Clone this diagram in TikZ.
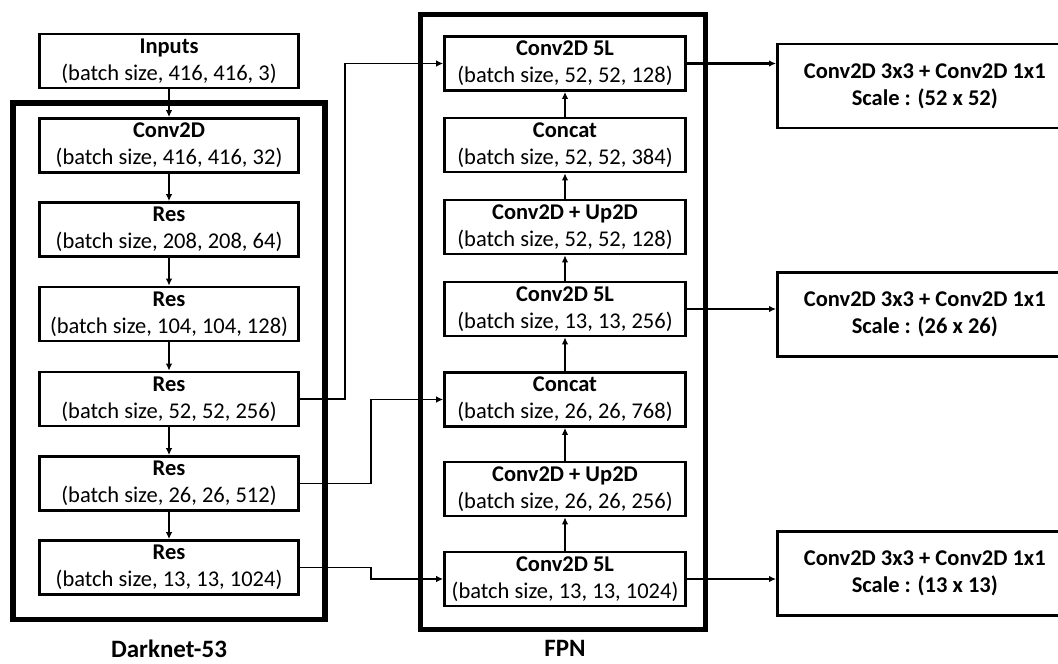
\documentclass[tikz,border=0pt]{standalone}
\usepackage{fontspec}
\setmainfont{Carlito}
\usetikzlibrary{arrows.meta}
\begin{document}
\begin{tikzpicture}[x=1pt,y=-1pt,
  every node/.style={font=\fontsize{22.5}{27}\selectfont},
  dbox/.style={draw, line width=2.6pt, minimum width=259pt, minimum height=54pt, align=center, inner sep=0pt},
  fbox/.style={draw, line width=2.6pt, minimum width=241pt, minimum height=54pt, align=center, inner sep=0pt},
  obox/.style={draw, line width=2.6pt, minimum width=295pt, minimum height=84pt, align=center, inner sep=0pt, anchor=west},
  frame/.style={draw, line width=5.5pt},
  flow/.style={line width=2.1pt, -{Latex[length=7pt,width=6.5pt]}},
  skip/.style={line width=1.5pt, -{Latex[length=7pt,width=6.5pt]}},
  lbl/.style={font=\fontsize{25}{30}\selectfont\bfseries, inner sep=0pt}]
\useasboundingbox (0,0) rectangle (1058,664);
\fill[white] (0,0) rectangle (1058,664);
% frames
\draw[frame] (13,103) rectangle (325,619.5);
\draw[frame] (420.5,14.5) rectangle (705.5,629.5);
% Darknet column
\node[dbox] (in) at (169,61) {\textbf{Inputs}\\(batch size, 416, 416, 3)};
\node[dbox] (c1) at (169,145.5) {\textbf{Conv2D}\\(batch size, 416, 416, 32)};
\node[dbox] (r1) at (169,229.5) {\textbf{Res}\\(batch size, 208, 208, 64)};
\node[dbox] (r2) at (169,314) {\textbf{Res}\\(batch size, 104, 104, 128)};
\node[dbox] (r3) at (169,399) {\textbf{Res}\\(batch size, 52, 52, 256)};
\node[dbox] (r4) at (169,483.5) {\textbf{Res}\\(batch size, 26, 26, 512)};
\node[dbox] (r5) at (169,567.5) {\textbf{Res}\\(batch size, 13, 13, 1024)};
% FPN column
\node[fbox] (f1) at (565,63.5) {\textbf{Conv2D 5L}\\(batch size, 52, 52, 128)};
\node[fbox] (f2) at (565,145) {\textbf{Concat}\\(batch size, 52, 52, 384)};
\node[fbox] (f3) at (565,227) {\textbf{Conv2D + Up2D}\\(batch size, 52, 52, 128)};
\node[fbox] (f4) at (565,309) {\textbf{Conv2D 5L}\\(batch size, 13, 13, 256)};
\node[fbox] (f5) at (565,399.5) {\textbf{Concat}\\(batch size, 26, 26, 768)};
\node[fbox] (f6) at (565,489) {\textbf{Conv2D + Up2D}\\(batch size, 26, 26, 256)};
\node[fbox] (f7) at (565,579) {\textbf{Conv2D 5L}\\(batch size, 13, 13, 1024)};
% outputs
\node[obox] (o1) at (776,86) {\textbf{Conv2D 3x3 + Conv2D 1x1}\\\textbf{Scale : (52 x 52)}};
\node[obox] (o2) at (776,314.5) {\textbf{Conv2D 3x3 + Conv2D 1x1}\\\textbf{Scale : (26 x 26)}};
\node[obox] (o3) at (776,573.5) {\textbf{Conv2D 3x3 + Conv2D 1x1}\\\textbf{Scale : (13 x 13)}};
% labels
\node[lbl] (ld) at (169,649) {Darknet-53};
\node[lbl] (lf) at (565,648) {FPN};
% darknet arrows
\draw[flow] (in.south) -- (c1.north);
\draw[flow] (c1.south) -- (r1.north);
\draw[flow] (r1.south) -- (r2.north);
\draw[flow] (r2.south) -- (r3.north);
\draw[flow] (r3.south) -- (r4.north);
\draw[flow] (r4.south) -- (r5.north);
% fpn arrows
\draw[flow] (f7.north) -- (f6.south);
\draw[flow] (f6.north) -- (f5.south);
\draw[flow] (f5.north) -- (f4.south);
\draw[flow] (f4.north) -- (f3.south);
\draw[flow] (f3.north) -- (f2.south);
\draw[flow] (f2.north) -- (f1.south);
% skip connections
\coordinate (k1) at (345,0);
\coordinate (k2) at (371,0);
\draw[skip] (r3.east) -- (r3.east -| k1) |- (f1.west);
\draw[skip] (r4.east) -- (r4.east -| k2) |- (f5.west);
\draw[skip] (r5.east) -- (r5.east -| k2) |- (f7.west);
% outputs arrows
\draw[flow] (f1.east) -- (f1.east -| o1.west);
\draw[flow] (f4.east) -- (f4.east -| o2.west);
\draw[flow] (f7.east) -- (f7.east -| o3.west);
\end{tikzpicture}
\end{document}
